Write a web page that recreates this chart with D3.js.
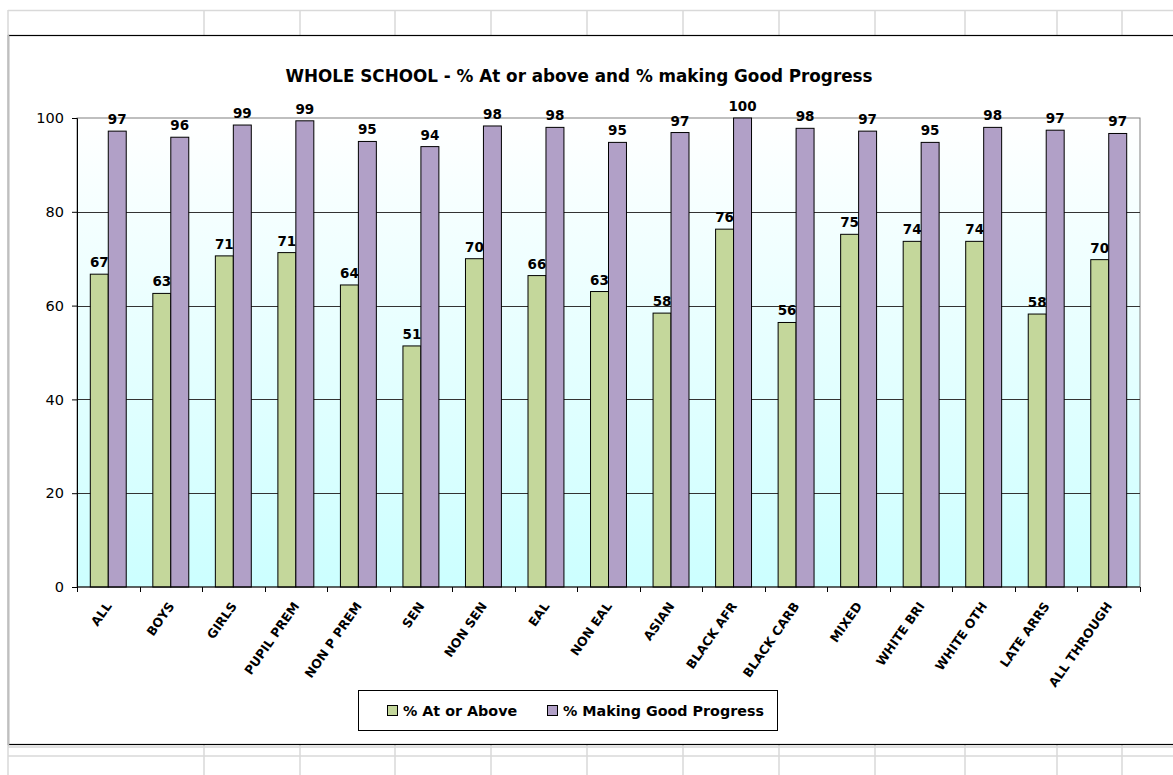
<!DOCTYPE html>
<html>
<head>
<meta charset="utf-8">
<script src="https://cdn.jsdelivr.net/npm/d3@7"></script>
<style>
  body { margin: 0; background: #fff; }
  svg text { font-family: "Comic Sans MS", "DejaVu Sans", sans-serif; fill: #000; }
  .bold { font-weight: bold; }
</style>
</head>
<body>
<div id="chart"></div>
<script>
// chart data
let categories = ["ALL", "BOYS", "GIRLS", "PUPIL PREM", "NON P PREM", "SEN", "NON SEN", "EAL",
    "NON EAL", "ASIAN", "BLACK AFR", "BLACK CARB", "MIXED", "WHITE BRI", "WHITE OTH", "LATE ARRS", "ALL THROUGH"];
let atOrAbove = [66.7, 62.6, 70.6, 71.3, 64.4, 51.4, 70.0, 66.4, 63.0, 58.4, 76.3, 56.4, 75.2, 73.7, 73.7, 58.2, 69.8];
let goodProgress = [97.2, 95.9, 98.5, 99.4, 95.0, 93.9, 98.3, 98.0, 94.8, 96.9, 100, 97.8, 97.2, 94.8, 98.0, 97.4, 96.7];
let seriesNames = ["% At or Above", "% Making Good Progress"];
let yTicks = [0, 20, 40, 60, 80, 100];
let chartTitle = "WHOLE SCHOOL - % At or above and % making Good Progress";

let width = 1173;
let height = 775;
let plot = { left: 77, right: 1140, top: 118, bottom: 587 };
let colors = ["#c4d79b", "#b1a0c7"];

let svg = d3.select("#chart")
    .append("svg")
    .attr("width", width)
    .attr("height", height);

// spreadsheet cell lines behind the chart
let colLines = [8, 204, 300, 395, 491, 587, 683, 779, 875, 965, 1057, 1122];
svg.selectAll("line.cell")
    .data(colLines)
    .enter()
    .append("line")
    .attr("x1", d => d).attr("x2", d => d)
    .attr("y1", 10).attr("y2", height)
    .style("stroke", "#d9d9d9").style("stroke-width", 1.5);
[10.5, 747, 756].forEach(function (y) {
    svg.append("line")
        .attr("x1", 8).attr("x2", width)
        .attr("y1", y).attr("y2", y)
        .style("stroke", "#d9d9d9").style("stroke-width", 1.5);
});

// chart area
svg.append("rect")
    .attr("x", 8.5).attr("y", 35.5)
    .attr("width", width).attr("height", 709)
    .style("fill", "#fff").style("stroke", "#000").style("stroke-width", 1.2);
svg.append("line")
    .attr("x1", 8.5).attr("x2", 8.5).attr("y1", 35).attr("y2", 745)
    .style("stroke", "#bfbfbf").style("stroke-width", 1.5);

// plot background gradient
let grad = svg.append("defs").append("linearGradient")
    .attr("id", "bg").attr("x1", 0).attr("x2", 0).attr("y1", 0).attr("y2", 1);
grad.append("stop").attr("offset", "0%").attr("stop-color", "#ffffff");
grad.append("stop").attr("offset", "100%").attr("stop-color", "#ccffff");

let xScale = d3.scaleBand()
    .domain(categories)
    .range([plot.left, plot.right])
    .paddingInner(0).paddingOuter(0);

let inner = d3.scaleBand()
    .domain([0, 1])
    .range([0, xScale.bandwidth()])
    .paddingInner(0).paddingOuter(0.74);

let yScale = d3.scaleLinear()
    .domain([0, 100])
    .range([plot.bottom, plot.top]);

svg.append("rect")
    .attr("x", plot.left).attr("y", plot.top)
    .attr("width", plot.right - plot.left).attr("height", plot.bottom - plot.top)
    .style("fill", "url(#bg)")
    .style("stroke", "#808080");

// gridlines
svg.selectAll("line.grid")
    .data(yTicks.filter(d => d > 0 && d < 100))
    .enter()
    .append("line")
    .attr("x1", plot.left).attr("x2", plot.right)
    .attr("y1", d => Math.round(yScale(d)) + 0.5).attr("y2", d => Math.round(yScale(d)) + 0.5)
    .style("stroke", "#333").style("stroke-width", 1);

// bars
let groups = svg.selectAll("g.cat")
    .data(categories)
    .enter()
    .append("g")
    .attr("transform", d => "translate(" + xScale(d) + ",0)");

[atOrAbove, goodProgress].forEach(function (series, s) {
    groups.append("rect")
        .attr("x", inner(s))
        .attr("y", (d, i) => yScale(series[i]))
        .attr("width", inner.bandwidth())
        .attr("height", (d, i) => plot.bottom - yScale(series[i]))
        .style("fill", colors[s])
        .style("stroke", "#000")
        .style("stroke-width", 1);

    groups.append("text")
        .attr("class", "bold")
        .attr("x", inner(s) + inner.bandwidth() / 2)
        .attr("y", (d, i) => yScale(series[i]) - 7)
        .attr("text-anchor", "middle")
        .style("font-size", "13.5px")
        .text((d, i) => d3.format(".0f")(series[i]));
});

// y axis
let yAxis = d3.axisLeft(yScale).tickValues(yTicks).tickSize(5).tickPadding(8);
let yg = svg.append("g")
    .attr("transform", "translate(" + plot.left + ",0)")
    .call(yAxis);
yg.selectAll("text").style("font-size", "14.5px");

// x axis: category boundary ticks
svg.selectAll("line.xtick")
    .data(categories.concat(["end"]))
    .enter()
    .append("line")
    .attr("x1", (d, i) => Math.round(plot.left + i * xScale.bandwidth()) + 0.5)
    .attr("x2", (d, i) => Math.round(plot.left + i * xScale.bandwidth()) + 0.5)
    .attr("y1", plot.bottom).attr("y2", plot.bottom + 5)
    .style("stroke", "#000");
svg.append("line")
    .attr("x1", plot.left).attr("x2", plot.right)
    .attr("y1", plot.bottom).attr("y2", plot.bottom)
    .style("stroke", "#000");

svg.selectAll("text.xlabel")
    .data(categories)
    .enter()
    .append("text")
    .attr("class", "bold")
    .attr("text-anchor", "end")
    .style("font-size", "12.5px")
    .attr("transform", d => "translate(" + (xScale(d) + xScale.bandwidth() / 2 + 4) + "," + (plot.bottom + 19) + ") rotate(-55)")
    .text(d => d);

// title
svg.append("text")
    .attr("class", "bold")
    .attr("x", 579).attr("y", 82)
    .attr("text-anchor", "middle")
    .style("font-size", "16.8px")
    .text(chartTitle);

// legend
svg.append("rect")
    .attr("x", 358.5).attr("y", 690.5)
    .attr("width", 419).attr("height", 40)
    .style("fill", "#fff").style("stroke", "#000");
let legendX = [387, 547];
seriesNames.forEach(function (name, i) {
    svg.append("rect")
        .attr("x", legendX[i] + 0.5).attr("y", 705.5)
        .attr("width", 10).attr("height", 10)
        .style("fill", colors[i]).style("stroke", "#000");
    svg.append("text")
        .attr("class", "bold")
        .attr("x", legendX[i] + 16).attr("y", 716)
        .style("font-size", "14.3px")
        .text(name);
});
</script>
</body>
</html>
